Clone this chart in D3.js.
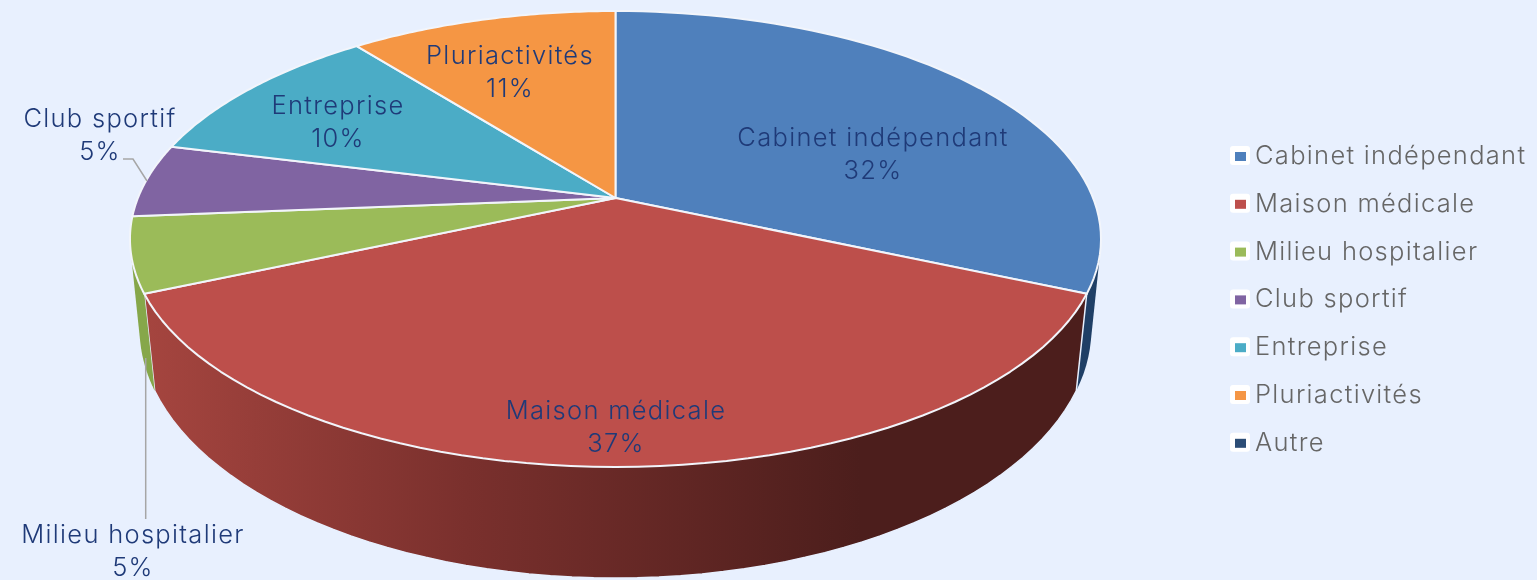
<!DOCTYPE html>
<html><head><meta charset="utf-8">
<script src="https://cdn.jsdelivr.net/npm/d3@7"></script>
<style>html,body{margin:0;padding:0;background:#e8f0fe;overflow:hidden}svg{display:block;filter:blur(0.45px)}text{font-family:Inter,Lato,sans-serif;font-weight:300}</style>
</head><body><svg id="c" width="1537" height="580"></svg>
<script>
const categories = ["Cabinet indépendant","Maison médicale","Milieu hospitalier","Club sportif","Entreprise","Pluriactivités","Autre"];
const values = [31.6,36.8,5.3,5.2,10.49,10.61,0];
const colors = ["#4f80bc","#bd4f4b","#9bbb59","#8064a2","#4bacc6","#f59644","#2c4d75"];
const wallColors = ["#1f3f66","#7a2f2c","#86a74a","#5e4a7a","#38879c","#c0752f","#1f3f66"];
const labelAnchors = [[873,153],[616,426],[133,550],[100,134],[338,121],[510,71]];
const legendTop = 155, legendStep = 47.8;

const svg = d3.select("#c");
const pie = d3.pie().sort(null).value(d=>d)(values);
const topDisc = {cx:615.5,cy:198,A:477.6,B:220.6,c:0.1798};
const botDisc = {cx:615.5,cy:286,A:469,B:242.4,c:0.17};
const proj = (p,t)=>{const x=Math.sin(t),y=-Math.cos(t),w=1-p.c*y;return [p.cx+p.A*x/w,p.cy+p.B*y/w];};
const rim = (p,a0,a1)=>d3.range(0,61).map(i=>proj(p,a0+(a1-a0)*i/60));
const line = d3.line();

const defs = svg.append("defs");
const g = defs.append("linearGradient").attr("id","wall").attr("gradientUnits","userSpaceOnUse")
  .attr("x1",145).attr("x2",860).attr("y1",0).attr("y2",0);
g.append("stop").attr("offset",0).attr("stop-color","#a5453f");
g.append("stop").attr("offset",0.45).attr("stop-color","#7a302d");
g.append("stop").attr("offset",1).attr("stop-color","#4c1e1c");

// side walls
svg.append("g").selectAll("path").data(pie.filter(d=>d.value>0&&[0,1,2].includes(d.index))).join("path")
  .attr("d",d=>line(d3.polygonHull(rim(topDisc,d.startAngle,d.endAngle).concat(rim(botDisc,d.startAngle,d.endAngle))))+"Z")
  .attr("fill",d=>d.index===1?"url(#wall)":wallColors[d.index])
  .attr("stroke",d=>d.index===1?"#e8f0fe":"none").attr("stroke-width",1.5);

// top faces
svg.append("g").selectAll("path").data(pie.filter(d=>d.value>0)).join("path")
  .attr("d",d=>line([[topDisc.cx,topDisc.cy]].concat(rim(topDisc,d.startAngle,d.endAngle)))+"Z")
  .attr("fill",(d)=>colors[d.index]).attr("stroke","#f2f5fb").attr("stroke-width",2).attr("stroke-linejoin","round");

// leader lines
const leaderClub = d3.line()([[147,181],[133,159],[123,159]]);
const leaderMilieu = d3.line()([[145.7,358],[145.7,519]]);
svg.selectAll(".l").data([leaderClub,leaderMilieu]).join("path").attr("class","l").attr("d",d=>d)
  .attr("fill","none").attr("stroke","#a6a6a6").attr("stroke-width",1.5);

// data labels
const lab = svg.append("g").attr("fill","#1f3a78").attr("font-size",25.5).attr("letter-spacing",1.3).attr("text-anchor","middle");
labelAnchors.forEach((a,i)=>{
  const t = lab.append("text").attr("x",a[0]).attr("y",a[1]);
  t.append("tspan").attr("x",a[0]).attr("dy",-7).text(categories[i]);
  t.append("tspan").attr("x",a[0]).attr("dy",32.5).text(Math.round(values[i])+"%");
});

// legend
const leg = svg.append("g").selectAll("g").data(categories).join("g")
  .attr("transform",(d,i)=>`translate(0,${legendTop+i*legendStep})`);
leg.append("rect").attr("x",1230).attr("y",-9).attr("width",20).attr("height",19).attr("rx",3).attr("fill","#fff");
leg.append("rect").attr("x",1235).attr("y",-3).attr("width",11).attr("height",9).attr("fill",(d,i)=>colors[i]);
leg.append("text").attr("x",1255).attr("y",9).attr("fill","#666").attr("font-size",25.5).attr("letter-spacing",1.3).text(d=>d);
</script></body></html>
